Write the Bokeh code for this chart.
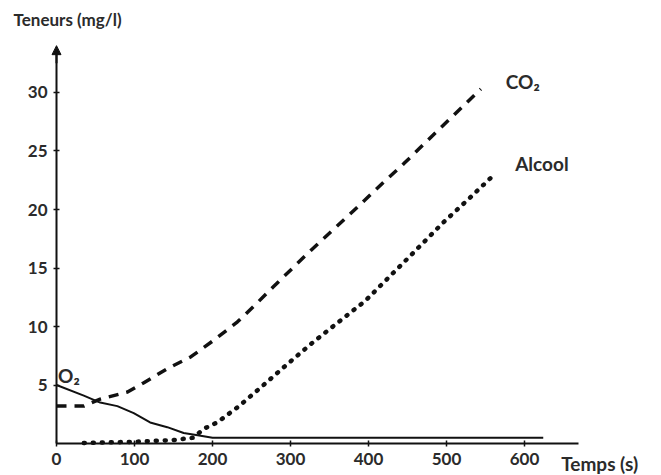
from bokeh.plotting import figure
from bokeh.models import Range1d, FixedTicker, Label, Arrow, NormalHead
from bokeh.embed import file_html
from bokeh.resources import INLINE

# ---- data ----
o2_t = [0, 35, 56, 78, 99, 120, 142, 163, 181, 200, 624]
o2_v = [5.0, 4.1, 3.5, 3.2, 2.6, 1.8, 1.4, 0.9, 0.7, 0.5, 0.5]

co2_t = [0, 35, 56, 91, 112, 142, 172, 201, 232, 257, 278, 326, 373, 419, 445, 488, 544]
co2_v = [3.2, 3.2, 3.8, 4.4, 5.2, 6.4, 7.4, 8.8, 10.4, 12.0, 13.4, 16.5, 19.4, 22.3, 23.9, 26.7, 30.3]

alc_t = [35, 100, 150, 175, 190, 206, 234, 262, 291, 326, 360, 396, 450, 496, 530, 563]
alc_v = [0.05, 0.15, 0.3, 0.5, 1.3, 1.8, 3.2, 4.8, 6.5, 8.5, 10.3, 12.2, 15.8, 18.9, 21.0, 23.1]

x_ticks = [0, 100, 200, 300, 400, 500, 600]
y_ticks = [5, 10, 15, 20, 25, 30]

FONT = "Lato"
TXT = "#2b2b2b"
INK = "#111111"

p = figure(width=661, height=475, output_backend="svg", toolbar_location=None,
           x_range=Range1d(-71.8, 775.6), y_range=Range1d(-2.73, 37.86),
           min_border=0)
p.outline_line_color = None
p.xgrid.visible = False
p.ygrid.visible = False
p.background_fill_color = "white"

for ax in (p.xaxis[0], p.yaxis[0]):
    ax.fixed_location = 0
    ax.axis_line_width = 2
    ax.axis_line_color = INK
    ax.major_tick_line_color = INK
    ax.major_tick_line_width = 1.5
    ax.major_tick_in = 3
    ax.major_tick_out = 3
    ax.minor_tick_line_color = None
    ax.major_label_text_font = FONT
    ax.major_label_text_font_style = "bold"
    ax.major_label_text_font_size = "17px"
    ax.major_label_text_color = TXT

p.xaxis.major_label_standoff = 6
p.yaxis.major_label_standoff = 6
p.xaxis.ticker = FixedTicker(ticks=x_ticks)
p.yaxis.ticker = FixedTicker(ticks=y_ticks)
p.xaxis.bounds = (0, 669)
p.yaxis.bounds = (0, 33.5)

p.add_layout(Arrow(end=NormalHead(size=9, fill_color=INK, line_color=INK),
                   x_start=0, y_start=32.5, x_end=0, y_end=34.0,
                   line_width=2, line_color=INK))

# curves
p.line(o2_t, o2_v, line_color=INK, line_width=2)
p.line(co2_t, co2_v, line_color=INK, line_width=3.5, line_dash="10 8")
p.line(alc_t, alc_v, line_color=INK, line_width=4.5, line_dash="1 8", line_cap="round")

def lab(x, y, t, size):
    p.add_layout(Label(x=x, y=y, text=t, text_font=FONT, text_font_style="bold",
                       text_font_size=size, text_color=TXT, text_baseline="middle"))

lab(-55, 36.2, "Teneurs (mg/l)", "17px")
lab(647, -1.7, "Temps (s)", "19px")
lab(576, 30.9, "CO₂", "19px")
lab(588, 23.9, "Alcool", "19px")
lab(2, 5.8, "O₂", "19px")

open("out.html", "w").write(file_html(p, INLINE))
